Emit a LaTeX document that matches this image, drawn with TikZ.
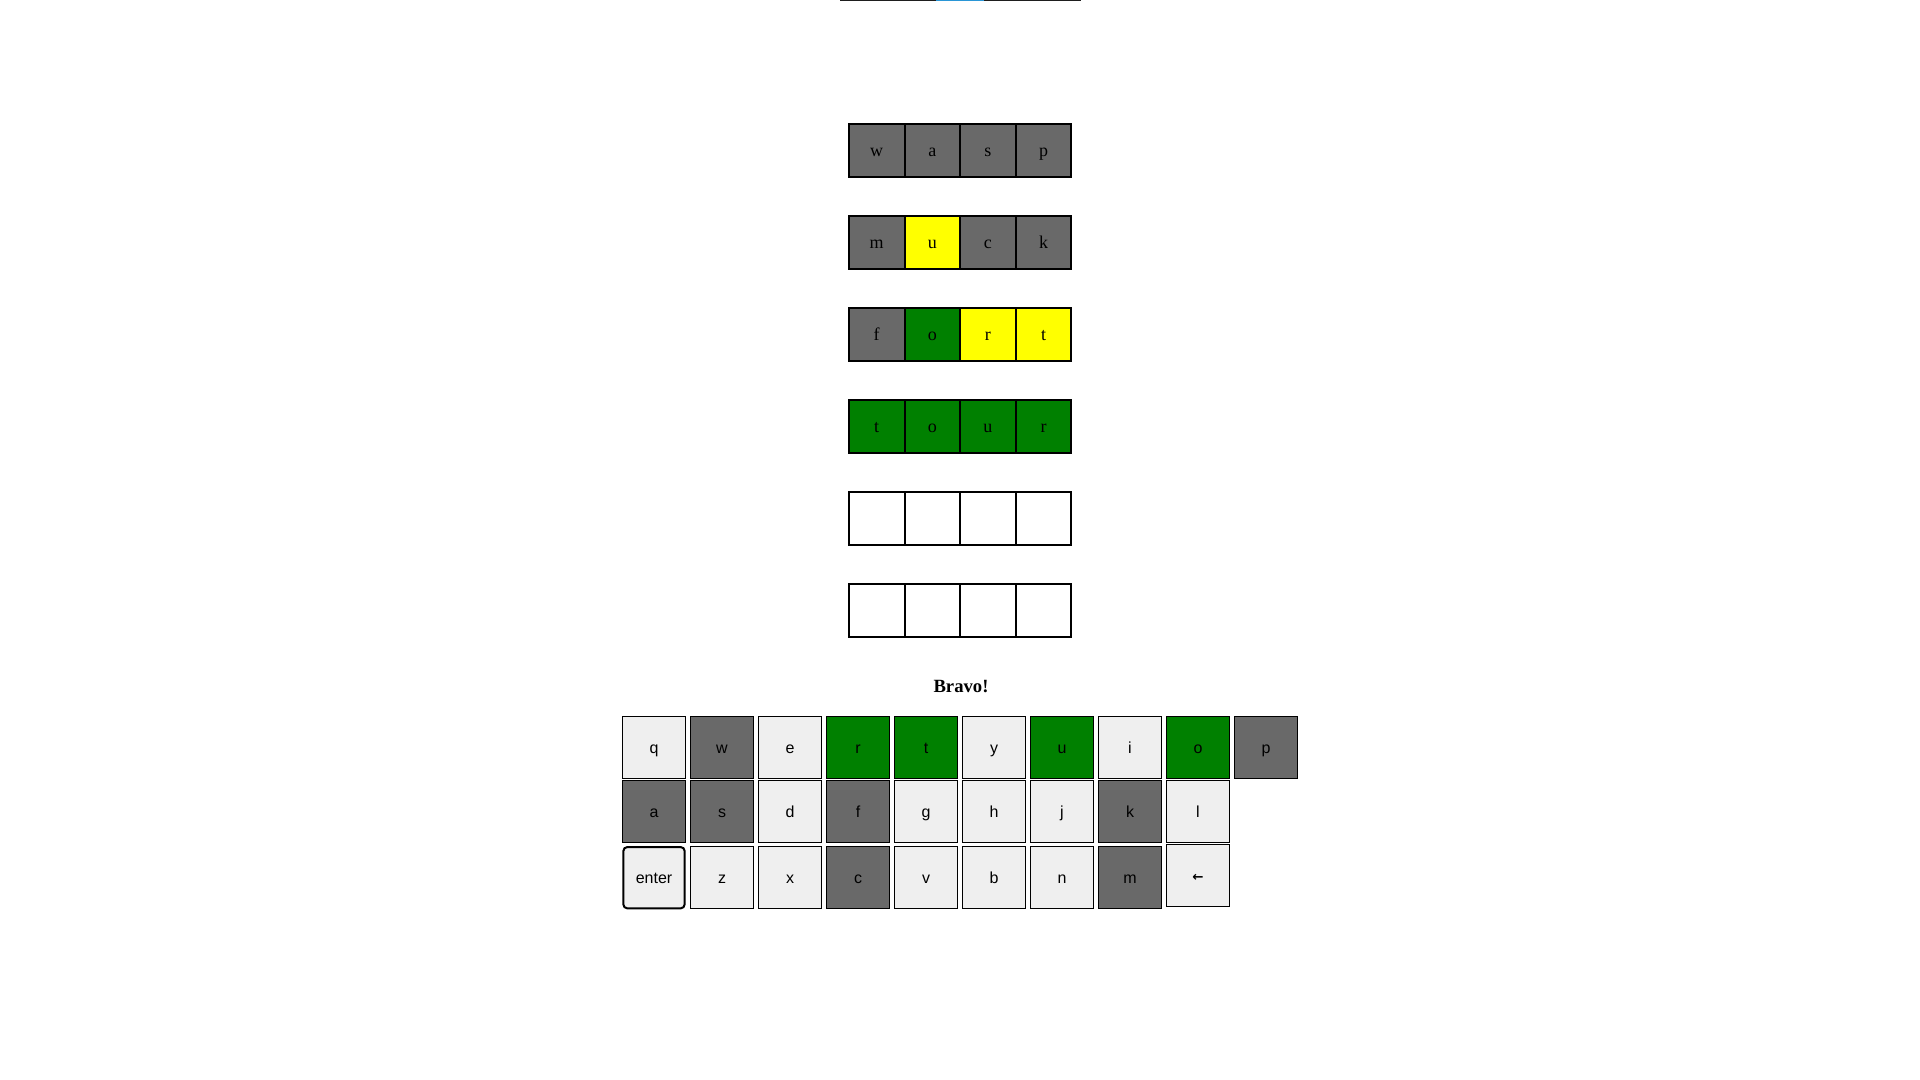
\documentclass[tikz,border=0pt]{standalone}
\usepackage{fontspec}
\setmainfont{Liberation Serif}
\newfontfamily\keyfont{Liberation Sans}
\newfontfamily\arrowfont{DejaVu Sans}
\definecolor{absent}{HTML}{696969}
\definecolor{present}{HTML}{FFFF00}
\definecolor{correct}{HTML}{008000}
\definecolor{keybg}{HTML}{EFEFEF}
\definecolor{barline}{HTML}{1E1E1E}
\definecolor{barblue}{HTML}{2A96D6}

\begin{document}
\begin{tikzpicture}[x=0.75pt,y=-0.75pt,
    tile/.style={draw, line width=1.5pt, minimum width=41.7pt, minimum height=39.75pt,
        inner sep=0pt, text height=9.5pt, text depth=0.7pt, font=\fontsize{13.5}{16}\selectfont},
    key/.style={draw, line width=0.75pt, fill=keybg, minimum width=46.8pt, minimum height=46.7pt,
        inner sep=0pt, text height=8.6pt, text depth=0.6pt, font=\keyfont\fontsize{12}{14}\selectfont}]
    \useasboundingbox (0,0) rectangle (1920,1080);

    % TOP BAR
    \fill[color=barline] (840,0) rectangle (1081,1.4);
    \fill[color=barblue] (936,0) rectangle (984,1.4);

    % GUESS GRID
    \foreach \row/\word in {0/{w/absent,a/absent,s/absent,p/absent},
                            1/{m/absent,u/present,c/absent,k/absent},
                            2/{f/absent,o/correct,r/present,t/present},
                            3/{t/correct,o/correct,u/correct,r/correct}}
        \foreach \ch/\col [count=\c from 0] in \word
            \node[tile, fill=\col] (t-\row-\c) at ({876.7+55.6*\c},{150.8+92*\row}) {\ch};

    \foreach \row in {4,5}
        \foreach \c in {0,...,3}
            \node[tile, fill=white] (t-\row-\c) at ({876.7+55.6*\c},{150.8+92*\row}) {};

    % STATUS
    \node[font=\bfseries\fontsize{14}{17}\selectfont, anchor=base, inner sep=0pt] (status) at (961,692.3) {Bravo!};

    % KEYBOARD
    \foreach \ch/\col [count=\i from 0] in {q/keybg,w/absent,e/keybg,r/correct,t/correct,
                                            y/keybg,u/correct,i/keybg,o/correct,p/absent}
        \node[key, fill=\col] (k-\ch) at ({654+68*\i},747.7) {\ch};

    \foreach \ch/\col [count=\i from 0] in {a/absent,s/absent,d/keybg,f/absent,g/keybg,
                                            h/keybg,j/keybg,k/absent,l/keybg}
        \node[key, fill=\col] (k-\ch) at ({654+68*\i},811.7) {\ch};

    \node[key, line width=1.5pt, rounded corners=3pt, minimum width=46pt, minimum height=46pt] (k-enter) at (654,877.7) {enter};
    \foreach \ch/\col [count=\i from 1] in {z/keybg,x/keybg,c/absent,v/keybg,b/keybg,
                                            n/keybg,m/absent}
        \node[key, fill=\col] (k-\ch) at ({654+68*\i},877.7) {\ch};
    \node[key, font=\arrowfont\bfseries\fontsize{10}{14}\selectfont] (k-back) at (1198,875.7) {←};
\end{tikzpicture}
\end{document}
